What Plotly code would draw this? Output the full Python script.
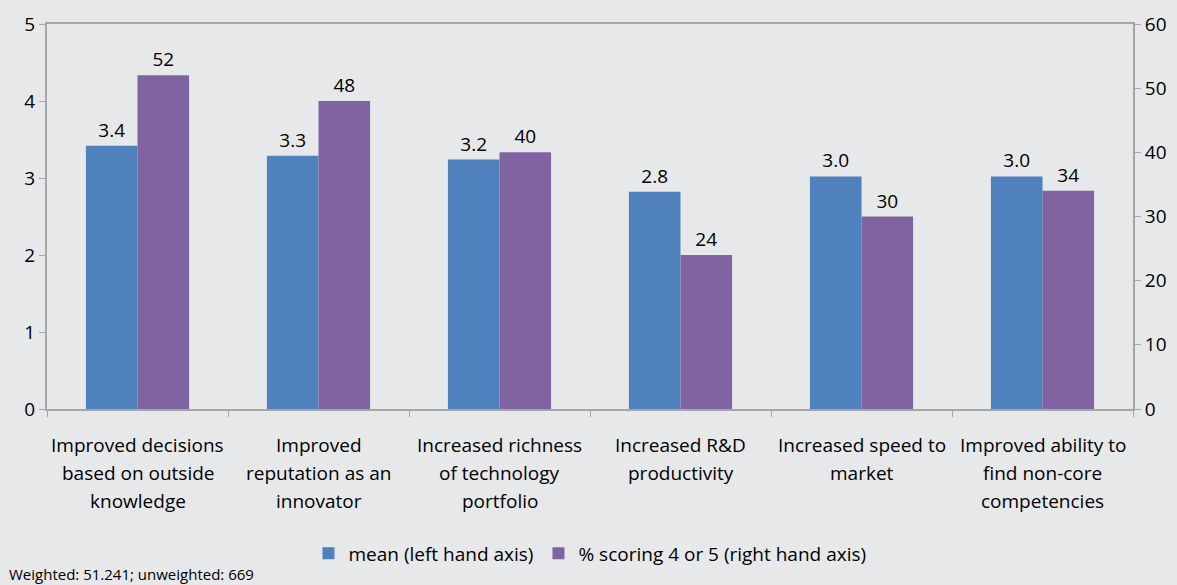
import plotly.graph_objects as go

categories = [
    "Improved decisions<br>based on outside<br>knowledge",
    "Improved<br>reputation as an<br>innovator",
    "Increased richness<br>of technology<br>portfolio",
    "Increased R&D<br>productivity",
    "Increased speed to<br>market",
    "Improved ability to<br>find non-core<br>competencies",
]
mean_values = [3.42, 3.29, 3.24, 2.82, 3.02, 3.02]
pct_values = [52, 48, 40, 24, 30, 34]
left_ticks = [0, 1, 2, 3, 4, 5]
right_ticks = [0, 10, 20, 30, 40, 50, 60]
footnote = "Weighted: 51.241; unweighted: 669"

FONT = "Open Sans"
BG = "#E7E8EA"
AX = "#A6A6A6"
FS = 19

fig = go.Figure()
fig.add_trace(go.Bar(
    x=categories, y=mean_values, name="mean (left hand axis)",
    marker=dict(color="#4F81BD", line=dict(width=0)),
    width=0.285, offset=-0.285,
    text=[f"{v:.1f}" for v in mean_values], textposition="outside",
    textfont=dict(size=FS, color="#000000"), cliponaxis=False,
    yaxis="y",
))
fig.add_trace(go.Bar(
    x=categories, y=pct_values, name="% scoring 4 or 5 (right hand axis)",
    marker=dict(color="#8064A2", line=dict(width=0)),
    width=0.285, offset=0,
    text=[f"{v:d}" for v in pct_values], textposition="outside",
    textfont=dict(size=FS, color="#000000"), cliponaxis=False,
    yaxis="y2",
))

annotations = []
for cat in categories:
    for i, line in enumerate(cat.split("<br>")):
        annotations.append(dict(
            text=line, x=cat, xref="x", y=0, yref="paper",
            yanchor="middle", xanchor="center", showarrow=False,
            yshift=-(36 + 28 * i), font=dict(size=FS, family=FONT, color="#000000"),
        ))
annotations.append(dict(
    text=footnote, xref="paper", yref="paper",
    x=-0.037, y=-0.429, xanchor="left", yanchor="middle", showarrow=False,
    font=dict(size=15, family=FONT, color="#000000"),
))

fig.update_layout(
    width=1177, height=585,
    margin=dict(l=47, r=44, t=24, b=174),
    paper_bgcolor=BG, plot_bgcolor=BG,
    font=dict(family=FONT, size=FS, color="#000000"),
    barmode="overlay",
    showlegend=True,
    legend=dict(orientation="h", x=0.5, xanchor="center", y=-0.375, yanchor="middle",
                font=dict(size=FS), itemwidth=30, bgcolor="rgba(0,0,0,0)"),
    xaxis=dict(
        showline=True, linecolor=AX, linewidth=2, mirror=True,
        ticks="outside", tickson="boundaries", ticklen=6, tickcolor=AX,
        showgrid=False, showticklabels=False, automargin=False,
    ),
    yaxis=dict(
        range=[0, 5], tickvals=left_ticks, showline=True, linecolor=AX, linewidth=2,
        ticks="outside", ticklen=6, tickcolor=AX, showgrid=False, zeroline=False,
        tickfont=dict(size=FS), automargin=False,
    ),
    yaxis2=dict(
        range=[0, 60], tickvals=right_ticks, overlaying="y", side="right",
        showline=True, linecolor=AX, linewidth=2,
        ticks="outside", ticklen=6, tickcolor=AX, showgrid=False, zeroline=False,
        tickfont=dict(size=FS), automargin=False,
    ),
    annotations=annotations,
)

fig.write_html(
    "out.html",
    config={"displayModeBar": False},
    post_script="document.body.style.margin='0';document.body.style.overflow='hidden';",
)
